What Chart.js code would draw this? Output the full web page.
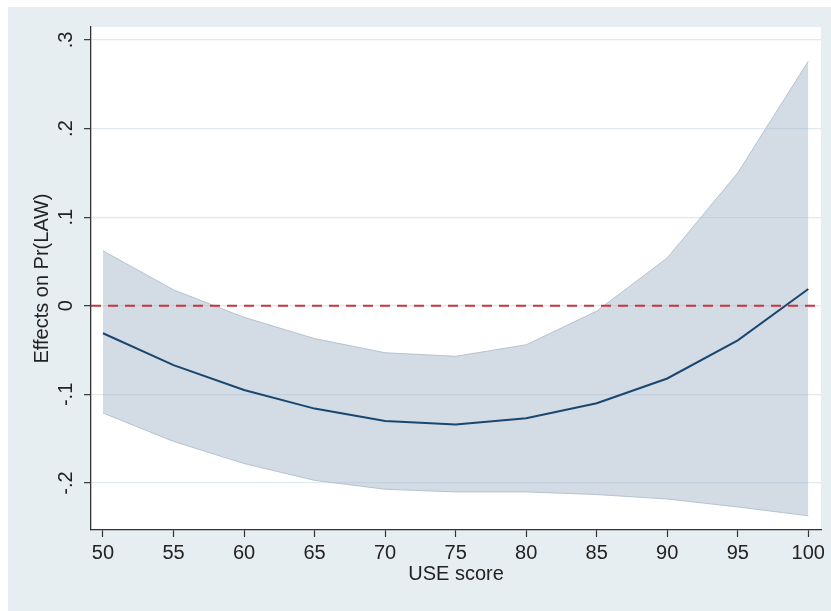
<!DOCTYPE html>
<html>
<head>
<meta charset="utf-8">
<script src="https://cdn.jsdelivr.net/npm/chart.js@4/dist/chart.umd.min.js"></script>
<style>
  html, body { margin: 0; padding: 0; background: #e7eef1; }
  canvas { display: block; }
</style>
</head>
<body>
<canvas id="chart" width="831" height="611"></canvas>
<script>
// USE score values and estimates
const useScore = [50, 55, 60, 65, 70, 75, 80, 85, 90, 95, 100];
const effect = [-0.031, -0.067, -0.095, -0.116, -0.130, -0.134, -0.127, -0.110, -0.082, -0.039, 0.019];
const upperCI = [0.062, 0.018, -0.013, -0.037, -0.053, -0.057, -0.044, -0.006, 0.054, 0.150, 0.276];
const lowerCI = [-0.121, -0.153, -0.178, -0.197, -0.207, -0.210, -0.210, -0.213, -0.218, -0.227, -0.237];

const xTicks = [50, 55, 60, 65, 70, 75, 80, 85, 90, 95, 100];
const yTicks = [-0.2, -0.1, 0, 0.1, 0.2, 0.3];

const xMin = 49.15, xMax = 100.9;
const yMin = -0.253, yMax = 0.3146;

const pts = (ys) => useScore.map((x, i) => ({ x: x, y: ys[i] }));

// stata-ish labels: .3, -.1, 0
const stataLabel = (v) => {
  if (Math.abs(v) < 1e-9) return '0';
  return v.toFixed(1).replace('0.', '.');
};

const bgPlugin = {
  id: 'bg',
  beforeDraw(chart) {
    const ctx = chart.ctx;
    const a = chart.chartArea;
    ctx.save();
    ctx.fillStyle = '#ffffff';
    ctx.fillRect(0, 0, chart.width, chart.height);
    ctx.fillStyle = '#e7eef1';
    ctx.fillRect(8, 7, chart.width - 8, chart.height - 7);
    ctx.fillStyle = '#ffffff';
    ctx.fillRect(a.left, a.top, a.right - a.left, a.bottom - a.top);
    ctx.restore();
  }
};

const font = { family: '"Liberation Sans", Arial, sans-serif', size: 20 };

new Chart(document.getElementById('chart').getContext('2d'), {
  type: 'line',
  data: {
    datasets: [
      {
        label: 'upper',
        data: pts(upperCI),
        borderColor: '#b7c3d1',
        borderWidth: 1,
        backgroundColor: 'rgba(167,184,204,0.5)',
        fill: '+1',
        pointRadius: 0,
        tension: 0,
        order: 3,
      },
      {
        label: 'lower',
        data: pts(lowerCI),
        borderColor: '#b7c3d1',
        borderWidth: 1,
        pointRadius: 0,
        fill: false,
        tension: 0,
        order: 2,
      },
      {
        label: 'effect',
        data: pts(effect),
        borderColor: '#1a476f',
        borderWidth: 2,
        pointRadius: 0,
        fill: false,
        tension: 0,
        order: 0,
      },
      {
        label: 'zero',
        data: [{ x: xMin, y: 0 }, { x: xMax, y: 0 }],
        borderColor: '#c8363c',
        borderWidth: 2,
        borderDash: [10, 7],
        pointRadius: 0,
        fill: false,
        order: 1,
      },
    ],
  },
  options: {
    responsive: false,
    animation: false,
    layout: { padding: { left: 30, top: 27, right: 10, bottom: 25 } },
    plugins: {
      legend: { display: false },
      tooltip: { enabled: false },
    },
    scales: {
      x: {
        type: 'linear',
        min: xMin,
        max: xMax,
        afterBuildTicks: (s) => { s.ticks = xTicks.map((v) => ({ value: v })); },
        afterFit: (s) => { s.height = 56; },
        grid: { drawOnChartArea: false, tickLength: 7, tickColor: '#333333', tickWidth: 1.2 },
        border: { color: '#333333', width: 1.3 },
        ticks: { font: font, color: '#222222', padding: 4, maxRotation: 0, autoSkip: false },
        title: { display: true, text: 'USE score', font: font, color: '#222222', padding: 0 },
      },
      y: {
        type: 'linear',
        min: yMin,
        max: yMax,
        afterBuildTicks: (s) => { s.ticks = yTicks.map((v) => ({ value: v })); },
        afterFit: (s) => { s.width = 61; },
        grid: { color: '#dfe9ee', lineWidth: 1.3, tickLength: 7, tickColor: '#333333', tickWidth: 1.2 },
        border: { color: '#333333', width: 1.3 },
        ticks: {
          font: font,
          color: '#222222',
          padding: 6,
          minRotation: 90,
          maxRotation: 90,
          crossAlign: 'center',
          callback: (v) => stataLabel(v),
        },
        title: { display: true, text: 'Effects on Pr(LAW)', font: font, color: '#222222', padding: 0 },
      },
    },
  },
  plugins: [bgPlugin],
});
</script>
</body>
</html>
